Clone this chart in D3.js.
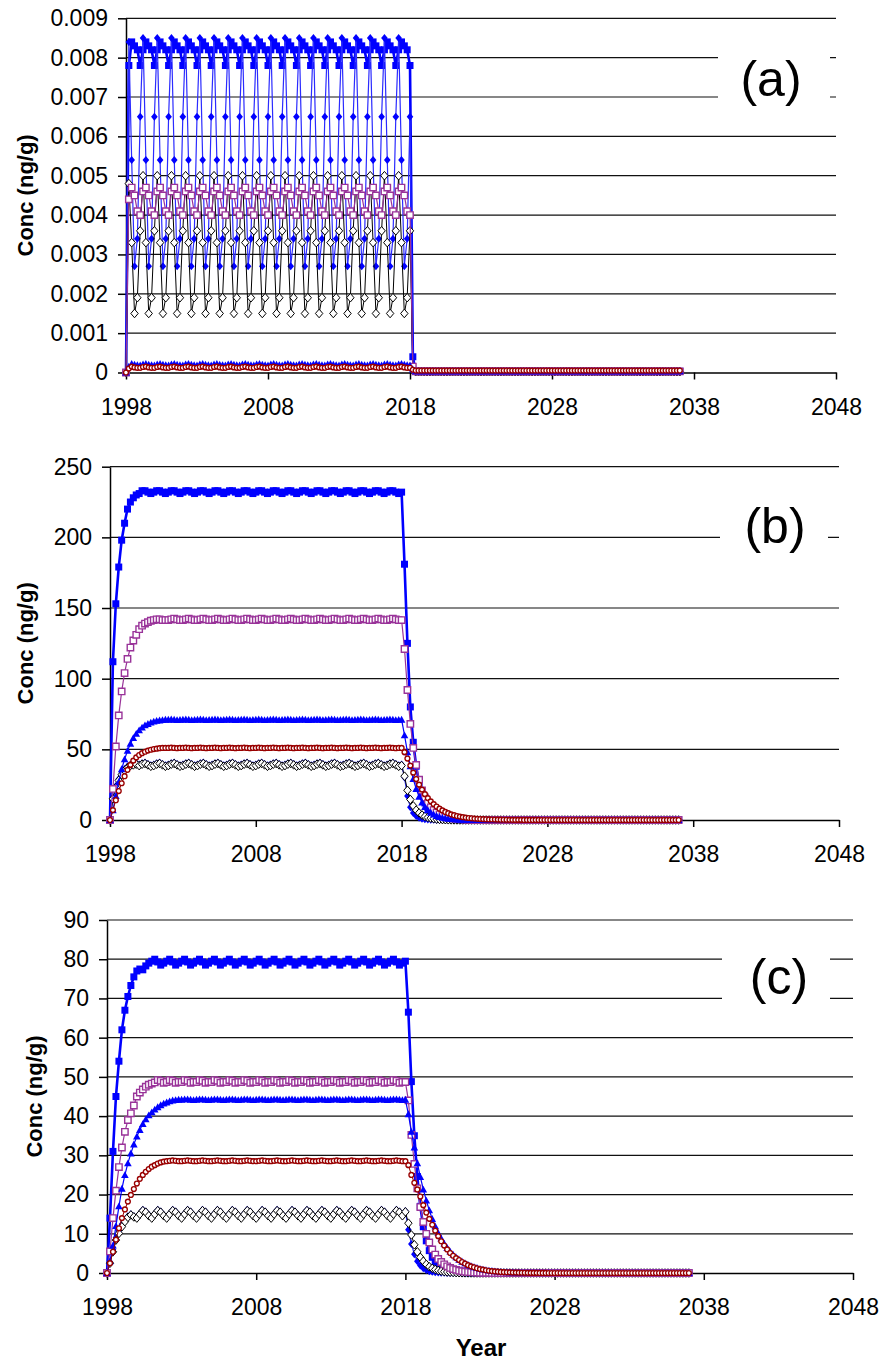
<!DOCTYPE html>
<html>
<head>
<meta charset="utf-8">
<script src="https://cdn.jsdelivr.net/npm/d3@7"></script>
<style>
  body { margin: 0; background: #fff; }
  svg { display: block; }
</style>
</head>
<body>
<div id="chart"></div>
<script>
// model output, one value every 0.2 yr starting in 1998
const startYear = 1998;
const stepYears = 0.2;

const xTicks = [1998, 2008, 2018, 2028, 2038, 2048];
const aTicks = [0, 0.001, 0.002, 0.003, 0.004, 0.005, 0.006, 0.007, 0.008, 0.009];
const bTicks = [0, 50, 100, 150, 200, 250];
const cTicks = [0, 10, 20, 30, 40, 50, 60, 70, 80, 90];

// ---------- panel (a) ----------
const aBlueSq = [
  0,.0078,.0084,.0083,.0082,.0078,.0082,.0084,.0083,.0082,
  .0078,.0082,.0084,.0083,.0082,.0078,.0082,.0084,.0083,.0082,
  .0078,.0082,.0084,.0083,.0082,.0078,.0082,.0084,.0083,.0082,
  .0078,.0082,.0084,.0083,.0082,.0078,.0082,.0084,.0083,.0082,
  .0078,.0082,.0084,.0083,.0082,.0078,.0082,.0084,.0083,.0082,
  .0078,.0082,.0084,.0083,.0082,.0078,.0082,.0084,.0083,.0082,
  .0078,.0082,.0084,.0083,.0082,.0078,.0082,.0084,.0083,.0082,
  .0078,.0082,.0084,.0083,.0082,.0078,.0082,.0084,.0083,.0082,
  .0078,.0082,.0084,.0083,.0082,.0078,.0082,.0084,.0083,.0082,
  .0078,.0082,.0084,.0083,.0082,.0078,.0082,.0084,.0083,.0082,
  .0078,.0004,3e-5,3e-5,3e-5,3e-5,3e-5,3e-5,3e-5,3e-5,
  3e-5,3e-5,3e-5,3e-5,3e-5,3e-5,3e-5,3e-5,3e-5,3e-5,
  3e-5,3e-5,3e-5,3e-5,3e-5,3e-5,3e-5,3e-5,3e-5,3e-5,
  3e-5,3e-5,3e-5,3e-5,3e-5,3e-5,3e-5,3e-5,3e-5,3e-5,
  3e-5,3e-5,3e-5,3e-5,3e-5,3e-5,3e-5,3e-5,3e-5,3e-5,
  3e-5,3e-5,3e-5,3e-5,3e-5,3e-5,3e-5,3e-5,3e-5,3e-5,
  3e-5,3e-5,3e-5,3e-5,3e-5,3e-5,3e-5,3e-5,3e-5,3e-5,
  3e-5,3e-5,3e-5,3e-5,3e-5,3e-5,3e-5,3e-5,3e-5,3e-5,
  3e-5,3e-5,3e-5,3e-5,3e-5,3e-5,3e-5,3e-5,3e-5,3e-5,
  3e-5,3e-5,3e-5,3e-5,3e-5,3e-5
];
const aBlueDia = [
  0,.0084,.0054,.0027,.0034,.0065,.0085,.0054,.0027,.0034,
  .0065,.0085,.0054,.0027,.0034,.0065,.0085,.0054,.0027,.0034,
  .0065,.0085,.0054,.0027,.0034,.0065,.0085,.0054,.0027,.0034,
  .0065,.0085,.0054,.0027,.0034,.0065,.0085,.0054,.0027,.0034,
  .0065,.0085,.0054,.0027,.0034,.0065,.0085,.0054,.0027,.0034,
  .0065,.0085,.0054,.0027,.0034,.0065,.0085,.0054,.0027,.0034,
  .0065,.0085,.0054,.0027,.0034,.0065,.0085,.0054,.0027,.0034,
  .0065,.0085,.0054,.0027,.0034,.0065,.0085,.0054,.0027,.0034,
  .0065,.0085,.0054,.0027,.0034,.0065,.0085,.0054,.0027,.0034,
  .0065,.0085,.0054,.0027,.0034,.0065,.0085,.0054,.0027,.0034,
  .0065,1e-4,2e-5,2e-5,2e-5,2e-5,2e-5,2e-5,2e-5,2e-5,
  2e-5,2e-5,2e-5,2e-5,2e-5,2e-5,2e-5,2e-5,2e-5,2e-5,
  2e-5,2e-5,2e-5,2e-5,2e-5,2e-5,2e-5,2e-5,2e-5,2e-5,
  2e-5,2e-5,2e-5,2e-5,2e-5,2e-5,2e-5,2e-5,2e-5,2e-5,
  2e-5,2e-5,2e-5,2e-5,2e-5,2e-5,2e-5,2e-5,2e-5,2e-5,
  2e-5,2e-5,2e-5,2e-5,2e-5,2e-5,2e-5,2e-5,2e-5,2e-5,
  2e-5,2e-5,2e-5,2e-5,2e-5,2e-5,2e-5,2e-5,2e-5,2e-5,
  2e-5,2e-5,2e-5,2e-5,2e-5,2e-5,2e-5,2e-5,2e-5,2e-5,
  2e-5,2e-5,2e-5,2e-5,2e-5,2e-5,2e-5,2e-5,2e-5,2e-5,
  2e-5,2e-5,2e-5,2e-5,2e-5,2e-5
];
const aBlackDia = [
  0,.0048,.0033,.0015,.0019,.0036,.0050,.0033,.0015,.0019,
  .0036,.0050,.0033,.0015,.0019,.0036,.0050,.0033,.0015,.0019,
  .0036,.0050,.0033,.0015,.0019,.0036,.0050,.0033,.0015,.0019,
  .0036,.0050,.0033,.0015,.0019,.0036,.0050,.0033,.0015,.0019,
  .0036,.0050,.0033,.0015,.0019,.0036,.0050,.0033,.0015,.0019,
  .0036,.0050,.0033,.0015,.0019,.0036,.0050,.0033,.0015,.0019,
  .0036,.0050,.0033,.0015,.0019,.0036,.0050,.0033,.0015,.0019,
  .0036,.0050,.0033,.0015,.0019,.0036,.0050,.0033,.0015,.0019,
  .0036,.0050,.0033,.0015,.0019,.0036,.0050,.0033,.0015,.0019,
  .0036,.0050,.0033,.0015,.0019,.0036,.0050,.0033,.0015,.0019,
  .0036,6e-5,2e-5,2e-5,2e-5,2e-5,2e-5,2e-5,2e-5,2e-5,
  2e-5,2e-5,2e-5,2e-5,2e-5,2e-5,2e-5,2e-5,2e-5,2e-5,
  2e-5,2e-5,2e-5,2e-5,2e-5,2e-5,2e-5,2e-5,2e-5,2e-5,
  2e-5,2e-5,2e-5,2e-5,2e-5,2e-5,2e-5,2e-5,2e-5,2e-5,
  2e-5,2e-5,2e-5,2e-5,2e-5,2e-5,2e-5,2e-5,2e-5,2e-5,
  2e-5,2e-5,2e-5,2e-5,2e-5,2e-5,2e-5,2e-5,2e-5,2e-5,
  2e-5,2e-5,2e-5,2e-5,2e-5,2e-5,2e-5,2e-5,2e-5,2e-5,
  2e-5,2e-5,2e-5,2e-5,2e-5,2e-5,2e-5,2e-5,2e-5,2e-5,
  2e-5,2e-5,2e-5,2e-5,2e-5,2e-5,2e-5,2e-5,2e-5,2e-5,
  2e-5,2e-5,2e-5,2e-5,2e-5,2e-5
];
const aPurpleSq = [
  0,.0044,.0047,.0045,.0041,.0040,.0046,.0047,.0045,.0041,
  .0040,.0046,.0047,.0045,.0041,.0040,.0046,.0047,.0045,.0041,
  .0040,.0046,.0047,.0045,.0041,.0040,.0046,.0047,.0045,.0041,
  .0040,.0046,.0047,.0045,.0041,.0040,.0046,.0047,.0045,.0041,
  .0040,.0046,.0047,.0045,.0041,.0040,.0046,.0047,.0045,.0041,
  .0040,.0046,.0047,.0045,.0041,.0040,.0046,.0047,.0045,.0041,
  .0040,.0046,.0047,.0045,.0041,.0040,.0046,.0047,.0045,.0041,
  .0040,.0046,.0047,.0045,.0041,.0040,.0046,.0047,.0045,.0041,
  .0040,.0046,.0047,.0045,.0041,.0040,.0046,.0047,.0045,.0041,
  .0040,.0046,.0047,.0045,.0041,.0040,.0046,.0047,.0045,.0041,
  .0040,1.5e-4,3e-5,3e-5,3e-5,3e-5,3e-5,3e-5,3e-5,3e-5,
  3e-5,3e-5,3e-5,3e-5,3e-5,3e-5,3e-5,3e-5,3e-5,3e-5,
  3e-5,3e-5,3e-5,3e-5,3e-5,3e-5,3e-5,3e-5,3e-5,3e-5,
  3e-5,3e-5,3e-5,3e-5,3e-5,3e-5,3e-5,3e-5,3e-5,3e-5,
  3e-5,3e-5,3e-5,3e-5,3e-5,3e-5,3e-5,3e-5,3e-5,3e-5,
  3e-5,3e-5,3e-5,3e-5,3e-5,3e-5,3e-5,3e-5,3e-5,3e-5,
  3e-5,3e-5,3e-5,3e-5,3e-5,3e-5,3e-5,3e-5,3e-5,3e-5,
  3e-5,3e-5,3e-5,3e-5,3e-5,3e-5,3e-5,3e-5,3e-5,3e-5,
  3e-5,3e-5,3e-5,3e-5,3e-5,3e-5,3e-5,3e-5,3e-5,3e-5,
  3e-5,3e-5,3e-5,3e-5,3e-5,3e-5
];
const aBlueTri = [
  0,1.5e-4,2.2e-4,2.0e-4,1.9e-4,1.8e-4,2.1e-4,2.2e-4,2.0e-4,1.9e-4,
  1.8e-4,2.1e-4,2.2e-4,2.0e-4,1.9e-4,1.8e-4,2.1e-4,2.2e-4,2.0e-4,1.9e-4,
  1.8e-4,2.1e-4,2.2e-4,2.0e-4,1.9e-4,1.8e-4,2.1e-4,2.2e-4,2.0e-4,1.9e-4,
  1.8e-4,2.1e-4,2.2e-4,2.0e-4,1.9e-4,1.8e-4,2.1e-4,2.2e-4,2.0e-4,1.9e-4,
  1.8e-4,2.1e-4,2.2e-4,2.0e-4,1.9e-4,1.8e-4,2.1e-4,2.2e-4,2.0e-4,1.9e-4,
  1.8e-4,2.1e-4,2.2e-4,2.0e-4,1.9e-4,1.8e-4,2.1e-4,2.2e-4,2.0e-4,1.9e-4,
  1.8e-4,2.1e-4,2.2e-4,2.0e-4,1.9e-4,1.8e-4,2.1e-4,2.2e-4,2.0e-4,1.9e-4,
  1.8e-4,2.1e-4,2.2e-4,2.0e-4,1.9e-4,1.8e-4,2.1e-4,2.2e-4,2.0e-4,1.9e-4,
  1.8e-4,2.1e-4,2.2e-4,2.0e-4,1.9e-4,1.8e-4,2.1e-4,2.2e-4,2.0e-4,1.9e-4,
  1.8e-4,2.1e-4,2.2e-4,2.0e-4,1.9e-4,1.8e-4,2.1e-4,2.2e-4,2.0e-4,1.9e-4,
  1.8e-4,8e-5,3e-5,3e-5,3e-5,3e-5,3e-5,3e-5,3e-5,3e-5,
  3e-5,3e-5,3e-5,3e-5,3e-5,3e-5,3e-5,3e-5,3e-5,3e-5,
  3e-5,3e-5,3e-5,3e-5,3e-5,3e-5,3e-5,3e-5,3e-5,3e-5,
  3e-5,3e-5,3e-5,3e-5,3e-5,3e-5,3e-5,3e-5,3e-5,3e-5,
  3e-5,3e-5,3e-5,3e-5,3e-5,3e-5,3e-5,3e-5,3e-5,3e-5,
  3e-5,3e-5,3e-5,3e-5,3e-5,3e-5,3e-5,3e-5,3e-5,3e-5,
  3e-5,3e-5,3e-5,3e-5,3e-5,3e-5,3e-5,3e-5,3e-5,3e-5,
  3e-5,3e-5,3e-5,3e-5,3e-5,3e-5,3e-5,3e-5,3e-5,3e-5,
  3e-5,3e-5,3e-5,3e-5,3e-5,3e-5,3e-5,3e-5,3e-5,3e-5,
  3e-5,3e-5,3e-5,3e-5,3e-5,3e-5
];
const aRedCirc = [
  0,1.0e-4,1.5e-4,1.3e-4,1.2e-4,1.2e-4,1.4e-4,1.5e-4,1.3e-4,1.2e-4,
  1.2e-4,1.4e-4,1.5e-4,1.3e-4,1.2e-4,1.2e-4,1.4e-4,1.5e-4,1.3e-4,1.2e-4,
  1.2e-4,1.4e-4,1.5e-4,1.3e-4,1.2e-4,1.2e-4,1.4e-4,1.5e-4,1.3e-4,1.2e-4,
  1.2e-4,1.4e-4,1.5e-4,1.3e-4,1.2e-4,1.2e-4,1.4e-4,1.5e-4,1.3e-4,1.2e-4,
  1.2e-4,1.4e-4,1.5e-4,1.3e-4,1.2e-4,1.2e-4,1.4e-4,1.5e-4,1.3e-4,1.2e-4,
  1.2e-4,1.4e-4,1.5e-4,1.3e-4,1.2e-4,1.2e-4,1.4e-4,1.5e-4,1.3e-4,1.2e-4,
  1.2e-4,1.4e-4,1.5e-4,1.3e-4,1.2e-4,1.2e-4,1.4e-4,1.5e-4,1.3e-4,1.2e-4,
  1.2e-4,1.4e-4,1.5e-4,1.3e-4,1.2e-4,1.2e-4,1.4e-4,1.5e-4,1.3e-4,1.2e-4,
  1.2e-4,1.4e-4,1.5e-4,1.3e-4,1.2e-4,1.2e-4,1.4e-4,1.5e-4,1.3e-4,1.2e-4,
  1.2e-4,1.4e-4,1.5e-4,1.3e-4,1.2e-4,1.2e-4,1.4e-4,1.5e-4,1.3e-4,1.2e-4,
  1.2e-4,7e-5,5e-5,5e-5,5e-5,5e-5,5e-5,5e-5,5e-5,5e-5,
  5e-5,5e-5,5e-5,5e-5,5e-5,5e-5,5e-5,5e-5,5e-5,5e-5,
  5e-5,5e-5,5e-5,5e-5,5e-5,5e-5,5e-5,5e-5,5e-5,5e-5,
  5e-5,5e-5,5e-5,5e-5,5e-5,5e-5,5e-5,5e-5,5e-5,5e-5,
  5e-5,5e-5,5e-5,5e-5,5e-5,5e-5,5e-5,5e-5,5e-5,5e-5,
  5e-5,5e-5,5e-5,5e-5,5e-5,5e-5,5e-5,5e-5,5e-5,5e-5,
  5e-5,5e-5,5e-5,5e-5,5e-5,5e-5,5e-5,5e-5,5e-5,5e-5,
  5e-5,5e-5,5e-5,5e-5,5e-5,5e-5,5e-5,5e-5,5e-5,5e-5,
  5e-5,5e-5,5e-5,5e-5,5e-5,5e-5,5e-5,5e-5,5e-5,5e-5,
  5e-5,5e-5,5e-5,5e-5,5e-5,5e-5
];

// ---------- panel (b) ----------
const bBlueSq = [
  0,112,153,179,198,210,220,225,228,230,
  231,233,233,232,231,232,233,233,232,231,
  232,233,233,232,231,232,233,233,232,231,
  232,233,233,232,231,232,233,233,232,231,
  232,233,233,232,231,232,233,233,232,231,
  232,233,233,232,231,232,233,233,232,231,
  232,233,233,232,231,232,233,233,232,231,
  232,233,233,232,231,232,233,233,232,231,
  232,233,233,232,231,232,233,233,232,231,
  232,233,233,232,231,232,233,233,232,231,
  232,181,125,80,55,38,26,18,12,8.5,
  6,4,2.8,2,1.4,1,0.7,0.5,0.35,0.25,
  0.17,0.12,0.08,0.05,0.03,0.02,0.01,0,0,0,
  0,0,0,0,0,0,0,0,0,0,
  0,0,0,0,0,0,0,0,0,0,
  0,0,0,0,0,0,0,0,0,0,
  0,0,0,0,0,0,0,0,0,0,
  0,0,0,0,0,0,0,0,0,0,
  0,0,0,0,0,0,0,0,0,0,
  0,0,0,0,0,0
];
const bBlueDia = [
  0,16,24,29,33,36,38,39.3,39.8,40.2,
  39.2,40.2,40.7,39.7,38.7,39.2,40.2,40.7,39.7,38.7,
  39.2,40.2,40.7,39.7,38.7,39.2,40.2,40.7,39.7,38.7,
  39.2,40.2,40.7,39.7,38.7,39.2,40.2,40.7,39.7,38.7,
  39.2,40.2,40.7,39.7,38.7,39.2,40.2,40.7,39.7,38.7,
  39.2,40.2,40.7,39.7,38.7,39.2,40.2,40.7,39.7,38.7,
  39.2,40.2,40.7,39.7,38.7,39.2,40.2,40.7,39.7,38.7,
  39.2,40.2,40.7,39.7,38.7,39.2,40.2,40.7,39.7,38.7,
  39.2,40.2,40.7,39.7,38.7,39.2,40.2,40.7,39.7,38.7,
  39.2,40.2,40.7,39.7,38.7,39.2,40.2,40.7,39.7,38.7,
  39.2,30,17,9,5,2.8,1.6,0.9,0.5,0.3,
  0.17,0.1,0.05,0.03,0.02,0.01,0,0,0,0,
  0,0,0,0,0,0,0,0,0,0,
  0,0,0,0,0,0,0,0,0,0,
  0,0,0,0,0,0,0,0,0,0,
  0,0,0,0,0,0,0,0,0,0,
  0,0,0,0,0,0,0,0,0,0,
  0,0,0,0,0,0,0,0,0,0,
  0,0,0,0,0,0,0,0,0,0,
  0,0,0,0,0,0
];
const bBlackDia = [
  0,15,23,28,32,35,37,38.5,39,39.5,
  38.5,39.5,40,39,38,38.5,39.5,40,39,38,
  38.5,39.5,40,39,38,38.5,39.5,40,39,38,
  38.5,39.5,40,39,38,38.5,39.5,40,39,38,
  38.5,39.5,40,39,38,38.5,39.5,40,39,38,
  38.5,39.5,40,39,38,38.5,39.5,40,39,38,
  38.5,39.5,40,39,38,38.5,39.5,40,39,38,
  38.5,39.5,40,39,38,38.5,39.5,40,39,38,
  38.5,39.5,40,39,38,38.5,39.5,40,39,38,
  38.5,39.5,40,39,38,38.5,39.5,40,39,38,
  38.5,31,21,14.5,10,7,5,3.5,2.5,1.8,
  1.3,0.9,0.65,0.45,0.32,0.22,0.16,0.11,0.08,0.05,
  0.03,0.02,0.01,0,0,0,0,0,0,0,
  0,0,0,0,0,0,0,0,0,0,
  0,0,0,0,0,0,0,0,0,0,
  0,0,0,0,0,0,0,0,0,0,
  0,0,0,0,0,0,0,0,0,0,
  0,0,0,0,0,0,0,0,0,0,
  0,0,0,0,0,0,0,0,0,0,
  0,0,0,0,0,0
];
const bPurpleSq = [
  0,22,52,74,91,104,114,122,127,131,
  135,137.5,139,140,141,141.5,142,142,141.5,141.5,
  141.5,142,142.5,142,141.5,141.5,142,142.5,142,141.5,
  141.5,142,142.5,142,141.5,141.5,142,142.5,142,141.5,
  141.5,142,142.5,142,141.5,141.5,142,142.5,142,141.5,
  141.5,142,142.5,142,141.5,141.5,142,142.5,142,141.5,
  141.5,142,142.5,142,141.5,141.5,142,142.5,142,141.5,
  141.5,142,142.5,142,141.5,141.5,142,142.5,142,141.5,
  141.5,142,142.5,142,141.5,141.5,142,142.5,142,141.5,
  141.5,142,142.5,142,141.5,141.5,142,142.5,142,141.5,
  141.5,121,92,68,51,39,28.5,21,16,12,
  9,7,5.3,4,3,2.3,1.7,1.3,1,0.75,
  0.55,0.4,0.3,0.2,0.15,0.1,0.07,0.05,0.03,0.02,
  0,0,0,0,0,0,0,0,0,0,
  0,0,0,0,0,0,0,0,0,0,
  0,0,0,0,0,0,0,0,0,0,
  0,0,0,0,0,0,0,0,0,0,
  0,0,0,0,0,0,0,0,0,0,
  0,0,0,0,0,0,0,0,0,0,
  0,0,0,0,0,0
];
const bBlueTri = [
  0,7,17,27,36,43,49,54,58,61,
  63.5,65.5,67,68,69,69.7,70.2,70.5,70.8,71,
  71,71.2,71,70.8,70.9,71,71.2,71,70.8,70.9,
  71,71.2,71,70.8,70.9,71,71.2,71,70.8,70.9,
  71,71.2,71,70.8,70.9,71,71.2,71,70.8,70.9,
  71,71.2,71,70.8,70.9,71,71.2,71,70.8,70.9,
  71,71.2,71,70.8,70.9,71,71.2,71,70.8,70.9,
  71,71.2,71,70.8,70.9,71,71.2,71,70.8,70.9,
  71,71.2,71,70.8,70.9,71,71.2,71,70.8,70.9,
  71,71.2,71,70.8,70.9,71,71.2,71,70.8,70.9,
  71,60,48,38,29,22,16.5,12.5,9.3,7,
  5.2,3.9,2.9,2.2,1.6,1.2,0.9,0.7,0.5,0.37,
  0.28,0.2,0.15,0.1,0.07,0.05,0.03,0.02,0,0,
  0,0,0,0,0,0,0,0,0,0,
  0,0,0,0,0,0,0,0,0,0,
  0,0,0,0,0,0,0,0,0,0,
  0,0,0,0,0,0,0,0,0,0,
  0,0,0,0,0,0,0,0,0,0,
  0,0,0,0,0,0,0,0,0,0,
  0,0,0,0,0,0
];
const bRedCirc = [
  0,7,14,20.5,26,31,35.5,39,42,44.3,
  46,47.3,48.3,49.1,49.7,50.2,50.5,50.8,51,51,
  51,51.2,51,50.8,51,51,51.2,51,50.8,51,
  51,51.2,51,50.8,51,51,51.2,51,50.8,51,
  51,51.2,51,50.8,51,51,51.2,51,50.8,51,
  51,51.2,51,50.8,51,51,51.2,51,50.8,51,
  51,51.2,51,50.8,51,51,51.2,51,50.8,51,
  51,51.2,51,50.8,51,51,51.2,51,50.8,51,
  51,51.2,51,50.8,51,51,51.2,51,50.8,51,
  51,51.2,51,50.8,51,51,51.2,51,50.8,51,
  51,48,43.5,38.5,33.5,29,25,21.5,18.3,15.5,
  13.2,11.2,9.5,8,6.8,5.7,4.8,4,3.4,2.8,
  2.4,2,1.7,1.4,1.2,1,0.8,0.7,0.6,0.5,
  0.4,0.35,0.3,0.25,0.2,0.17,0.14,0.12,0.1,0.08,
  0.07,0.06,0.05,0.04,0.03,0.03,0.02,0.02,0.01,0.01,
  0,0,0,0,0,0,0,0,0,0,
  0,0,0,0,0,0,0,0,0,0,
  0,0,0,0,0,0,0,0,0,0,
  0,0,0,0,0,0,0,0,0,0,
  0,0,0,0,0,0
];

// ---------- panel (c) ----------
const cBlueSq = [
  0,14,31,45,54,62,67,70.5,73.3,75.5,
  77,77.5,77.3,78.3,79,79.5,80,79.3,78.5,79,
  79.5,80,79.3,78.5,79,79.5,80,79.3,78.5,79,
  79.5,80,79.3,78.5,79,79.5,80,79.3,78.5,79,
  79.5,80,79.3,78.5,79,79.5,80,79.3,78.5,79,
  79.5,80,79.3,78.5,79,79.5,80,79.3,78.5,79,
  79.5,80,79.3,78.5,79,79.5,80,79.3,78.5,79,
  79.5,80,79.3,78.5,79,79.5,80,79.3,78.5,79,
  79.5,80,79.3,78.5,79,79.5,80,79.3,78.5,79,
  79.5,80,79.3,78.5,79,79.5,80,79.3,78.5,79,
  79.5,66.5,48.8,35,24.6,17,11.8,8.2,5.7,4,
  2.8,1.9,1.3,0.9,0.6,0.45,0.3,0.2,0.15,0.1,
  0.07,0.05,0.03,0.02,0.01,0,0,0,0,0,
  0,0,0,0,0,0,0,0,0,0,
  0,0,0,0,0,0,0,0,0,0,
  0,0,0,0,0,0,0,0,0,0,
  0,0,0,0,0,0,0,0,0,0,
  0,0,0,0,0,0,0,0,0,0,
  0,0,0,0,0,0,0,0,0,0,
  0,0,0,0,0,0
];
const cBlueDia = [
  0,2.8,6,9,10.8,12.4,13.6,14.5,15,14.5,
  14.2,15.2,16.1,15.7,14.8,14.2,15.2,16.1,15.7,14.8,
  14.2,15.2,16.1,15.7,14.8,14.2,15.2,16.1,15.7,14.8,
  14.2,15.2,16.1,15.7,14.8,14.2,15.2,16.1,15.7,14.8,
  14.2,15.2,16.1,15.7,14.8,14.2,15.2,16.1,15.7,14.8,
  14.2,15.2,16.1,15.7,14.8,14.2,15.2,16.1,15.7,14.8,
  14.2,15.2,16.1,15.7,14.8,14.2,15.2,16.1,15.7,14.8,
  14.2,15.2,16.1,15.7,14.8,14.2,15.2,16.1,15.7,14.8,
  14.2,15.2,16.1,15.7,14.8,14.2,15.2,16.1,15.7,14.8,
  14.2,15.2,16.1,15.7,14.8,14.2,15.2,16.1,15.7,14.8,
  15.8,11,7.4,4.8,3,1.9,1.2,0.75,0.47,0.3,
  0.19,0.12,0.08,0.05,0.03,0.02,0.01,0,0,0,
  0,0,0,0,0,0,0,0,0,0,
  0,0,0,0,0,0,0,0,0,0,
  0,0,0,0,0,0,0,0,0,0,
  0,0,0,0,0,0,0,0,0,0,
  0,0,0,0,0,0,0,0,0,0,
  0,0,0,0,0,0,0,0,0,0,
  0,0,0,0,0,0,0,0,0,0,
  0,0,0,0,0,0
];
const cBlackDia = [
  0,2.5,5.4,8.4,10.1,11.8,13.1,14.2,14.8,14.3,
  14,15,15.9,15.5,14.6,14,15,15.9,15.5,14.6,
  14,15,15.9,15.5,14.6,14,15,15.9,15.5,14.6,
  14,15,15.9,15.5,14.6,14,15,15.9,15.5,14.6,
  14,15,15.9,15.5,14.6,14,15,15.9,15.5,14.6,
  14,15,15.9,15.5,14.6,14,15,15.9,15.5,14.6,
  14,15,15.9,15.5,14.6,14,15,15.9,15.5,14.6,
  14,15,15.9,15.5,14.6,14,15,15.9,15.5,14.6,
  14,15,15.9,15.5,14.6,14,15,15.9,15.5,14.6,
  14,15,15.9,15.5,14.6,14,15,15.9,15.5,14.6,
  15.6,12.7,9.7,7.2,5.4,4,3,2.2,1.6,1.2,
  0.9,0.65,0.48,0.35,0.26,0.19,0.14,0.1,0.07,0.05,
  0.04,0.03,0.02,0.01,0,0,0,0,0,0,
  0,0,0,0,0,0,0,0,0,0,
  0,0,0,0,0,0,0,0,0,0,
  0,0,0,0,0,0,0,0,0,0,
  0,0,0,0,0,0,0,0,0,0,
  0,0,0,0,0,0,0,0,0,0,
  0,0,0,0,0,0,0,0,0,0,
  0,0,0,0,0,0
];
const cPurpleSq = [
  0,5.5,14,21,27,32,36,39,40.7,42.7,
  45,46,46.8,47.5,48,48.3,48.6,49.2,49,48.5,
  48.7,49.2,49,48.5,48.7,48.7,49.2,49,48.5,48.7,
  48.7,49.2,49,48.5,48.7,48.7,49.2,49,48.5,48.7,
  48.7,49.2,49,48.5,48.7,48.7,49.2,49,48.5,48.7,
  48.7,49.2,49,48.5,48.7,48.7,49.2,49,48.5,48.7,
  48.7,49.2,49,48.5,48.7,48.7,49.2,49,48.5,48.7,
  48.7,49.2,49,48.5,48.7,48.7,49.2,49,48.5,48.7,
  48.7,49.2,49,48.5,48.7,48.7,49.2,49,48.5,48.7,
  48.7,49.2,49,48.5,48.7,48.7,49.2,49,48.5,48.7,
  48.7,44,35.2,27.8,21.6,16.8,13,10,7.8,6,
  4.7,3.6,2.8,2.2,1.7,1.3,1,0.8,0.6,0.45,
  0.35,0.27,0.2,0.15,0.12,0.09,0.07,0.05,0.04,0.03,
  0.02,0.02,0.01,0.01,0,0,0,0,0,0,
  0,0,0,0,0,0,0,0,0,0,
  0,0,0,0,0,0,0,0,0,0,
  0,0,0,0,0,0,0,0,0,0,
  0,0,0,0,0,0,0,0,0,0,
  0,0,0,0,0,0,0,0,0,0,
  0,0,0,0,0,0
];
const cBlueTri = [
  0,3,7,12,17,21.5,25,28,30.5,32.8,
  34.8,36.5,38,39.2,40.2,41,41.7,42.3,42.8,43.2,
  43.5,43.8,44,44.1,44.2,44.2,44.3,44.3,44.2,44.1,
  44.2,44.3,44.3,44.2,44.1,44.2,44.3,44.3,44.2,44.1,
  44.2,44.3,44.3,44.2,44.1,44.2,44.3,44.3,44.2,44.1,
  44.2,44.3,44.3,44.2,44.1,44.2,44.3,44.3,44.2,44.1,
  44.2,44.3,44.3,44.2,44.1,44.2,44.3,44.3,44.2,44.1,
  44.2,44.3,44.3,44.2,44.1,44.2,44.3,44.3,44.2,44.1,
  44.2,44.3,44.3,44.2,44.1,44.2,44.3,44.3,44.2,44.1,
  44.2,44.3,44.3,44.2,44.1,44.2,44.3,44.3,44.2,44.1,
  44.2,40.5,36,32,28,24.5,21.3,18.5,16,13.8,
  11.9,10.2,8.8,7.5,6.4,5.5,4.7,4,3.4,2.9,
  2.5,2.1,1.8,1.5,1.3,1.1,0.9,0.75,0.63,0.53,
  0.44,0.37,0.31,0.26,0.22,0.18,0.15,0.12,0.1,0.08,
  0.06,0.05,0.04,0.03,0.02,0.02,0.01,0.01,0,0,
  0,0,0,0,0,0,0,0,0,0,
  0,0,0,0,0,0,0,0,0,0,
  0,0,0,0,0,0,0,0,0,0,
  0,0,0,0,0,0,0,0,0,0,
  0,0,0,0,0,0
];
const cRedCirc = [
  0,2.5,5.4,8.5,11.4,14,16.2,18.2,19.9,21.4,
  22.8,24,25,25.8,26.5,27.1,27.5,27.9,28.2,28.4,
  28.5,28.6,28.7,28.6,28.5,28.5,28.6,28.7,28.6,28.5,
  28.5,28.6,28.7,28.6,28.5,28.5,28.6,28.7,28.6,28.5,
  28.5,28.6,28.7,28.6,28.5,28.5,28.6,28.7,28.6,28.5,
  28.5,28.6,28.7,28.6,28.5,28.5,28.6,28.7,28.6,28.5,
  28.5,28.6,28.7,28.6,28.5,28.5,28.6,28.7,28.6,28.5,
  28.5,28.6,28.7,28.6,28.5,28.5,28.6,28.7,28.6,28.5,
  28.5,28.6,28.7,28.6,28.5,28.5,28.6,28.7,28.6,28.5,
  28.5,28.6,28.7,28.6,28.5,28.5,28.6,28.7,28.6,28.5,
  28.5,27.5,25,23,21.3,19.5,17.3,15.4,13.8,12.3,
  10.8,9.4,8.1,7,6,5.1,4.4,3.8,3.3,2.8,
  2.4,2,1.7,1.45,1.2,1,0.85,0.7,0.58,0.48,
  0.4,0.33,0.27,0.22,0.18,0.15,0.12,0.1,0.08,0.065,
  0.05,0.04,0.03,0.025,0.02,0.015,0.01,0.01,0,0,
  0,0,0,0,0,0,0,0,0,0,
  0,0,0,0,0,0,0,0,0,0,
  0,0,0,0,0,0,0,0,0,0,
  0,0,0,0,0,0,0,0,0,0,
  0,0,0,0,0,0
];

// marker shapes
const square = h => `M${-h},${-h}H${h}V${h}H${-h}Z`;
const diamond = (h, w) => `M0,${-h}L${w},0L0,${h}L${-w},0Z`;
const triangle = h => `M0,${-h}L${h},${h * 0.8}L${-h},${h * 0.8}Z`;
const circle = r => `M${-r},0A${r},${r} 0 1,0 ${r},0A${r},${r} 0 1,0 ${-r},0Z`;

const styles = {
  blueSq:   { line: "#0000ff", lw: 2.6, shape: square(3.5),       fill: "#0000ff", stroke: "none",    sw: 0 },
  blueDia:  { line: "#2b2bff", lw: 1.2, shape: diamond(4, 3.3),   fill: "#0000ff", stroke: "none",    sw: 0 },
  blackDia: { line: "#000000", lw: 1,   shape: diamond(4.3, 3.7), fill: "#ffffff", stroke: "#000000", sw: 1 },
  purpleSq: { line: "#993399", lw: 1.2, shape: square(3.2),       fill: "#ffffff", stroke: "#993399", sw: 1.4 },
  blueTri:  { line: "#0000ff", lw: 1.2, shape: triangle(3.8),     fill: "#0000ff", stroke: "none",    sw: 0 },
  redCirc:  { line: "#990000", lw: 1,   shape: circle(2.4),       fill: "#ffffff", stroke: "#990000", sw: 1.4 }
};
const drawOrder = ["blueSq", "blueDia", "blackDia", "purpleSq", "blueTri", "redCirc"];

const panels = [
  { tag: "(a)", left: 126, right: 836, top: 18.3, bottom: 372.5, yTicks: aTicks,
    fmt: d => d === 0 ? "0" : d.toFixed(3), font: 23, titleX: 25,
    tagX: 771, tagY: 96, box: [718, 44, 112, 70],
    series: { blueSq: aBlueSq, blueDia: aBlueDia, blackDia: aBlackDia, purpleSq: aPurpleSq, blueTri: aBlueTri, redCirc: aRedCirc } },
  { tag: "(b)", left: 110, right: 839, top: 466.7, bottom: 820, yTicks: bTicks,
    fmt: d3.format("d"), font: 23, titleX: 25,
    tagX: 775, tagY: 543, box: [720, 492, 108, 70],
    series: { blueSq: bBlueSq, blueDia: bBlueDia, blackDia: bBlackDia, purpleSq: bPurpleSq, blueTri: bBlueTri, redCirc: bRedCirc } },
  { tag: "(c)", left: 107, right: 853, top: 920, bottom: 1273, yTicks: cTicks,
    fmt: d3.format("d"), font: 23, titleX: 34,
    tagX: 779, tagY: 994, box: [722, 942, 108, 70],
    series: { blueSq: cBlueSq, blueDia: cBlueDia, blackDia: cBlackDia, purpleSq: cPurpleSq, blueTri: cBlueTri, redCirc: cRedCirc } }
];

const svg = d3.select("#chart").append("svg")
  .attr("width", 881)
  .attr("height", 1360)
  .style("font-family", "'Liberation Sans', Arial, sans-serif");

panels.forEach(p => {
  const x = d3.scaleLinear().domain([1998, 2048]).range([p.left, p.right]);
  const y = d3.scaleLinear().domain([0, d3.max(p.yTicks)]).range([p.bottom, p.top]);
  const g = svg.append("g");

  // horizontal gridlines
  g.append("g")
    .selectAll("line")
    .data(p.yTicks.filter(d => d > 0))
    .join("line")
    .attr("x1", p.left)
    .attr("x2", p.right)
    .attr("y1", d => y(d))
    .attr("y2", d => y(d))
    .attr("stroke", "#111")
    .attr("stroke-width", 1.2);

  // white box behind the panel letter
  g.append("rect")
    .attr("x", p.box[0]).attr("y", p.box[1])
    .attr("width", p.box[2]).attr("height", p.box[3])
    .attr("fill", "#fff");
  g.append("text")
    .attr("x", p.tagX)
    .attr("y", p.tagY)
    .attr("text-anchor", "middle")
    .attr("font-size", 50)
    .text(p.tag);

  // axes
  const yAxis = g.append("g")
    .attr("transform", `translate(${p.left},0)`)
    .call(d3.axisLeft(y).tickValues(p.yTicks).tickFormat(p.fmt)
      .tickSize(8).tickPadding(10).tickSizeOuter(0));
  const xAxis = g.append("g")
    .attr("transform", `translate(0,${p.bottom})`)
    .call(d3.axisBottom(x).tickValues(xTicks).tickFormat(d3.format("d"))
      .tickSize(7).tickPadding(19).tickSizeOuter(0));
  [yAxis, xAxis].forEach(ax => {
    ax.attr("font-size", p.font).attr("font-family", null);
    ax.selectAll("path, line").attr("stroke", "#000").attr("stroke-width", 1.5);
    ax.selectAll("text").attr("fill", "#000");
  });

  // series: line then markers
  drawOrder.forEach(key => {
    const st = styles[key];
    const pts = p.series[key].map((v, i) => [x(startYear + i * stepYears), y(v)]);
    g.append("path")
      .attr("d", d3.line()(pts))
      .attr("fill", "none")
      .attr("stroke", st.line)
      .attr("stroke-width", st.lw)
      .attr("stroke-linejoin", "round");
    g.append("g")
      .selectAll("path")
      .data(pts)
      .join("path")
      .attr("transform", d => `translate(${d[0]},${d[1]})`)
      .attr("d", st.shape)
      .attr("fill", st.fill)
      .attr("stroke", st.stroke)
      .attr("stroke-width", st.sw);
  });

  // y axis title
  svg.append("text")
    .attr("transform", `translate(${p.titleX},${(p.top + p.bottom) / 2}) rotate(-90)`)
    .attr("text-anchor", "middle")
    .attr("dy", "0.35em")
    .attr("font-weight", "bold")
    .attr("font-size", 22)
    .text("Conc (ng/g)");
});

svg.append("text")
  .attr("x", 481)
  .attr("y", 1356)
  .attr("text-anchor", "middle")
  .attr("font-weight", "bold")
  .attr("font-size", 24)
  .text("Year");
</script>
</body>
</html>
